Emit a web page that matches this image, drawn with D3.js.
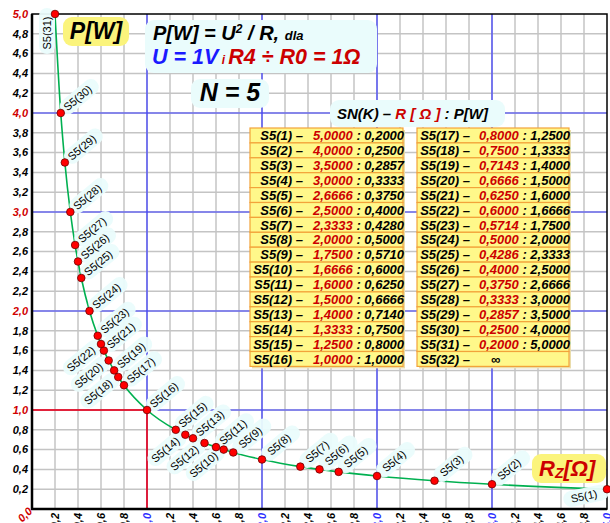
<!DOCTYPE html>
<html>
<head>
<meta charset="utf-8">
<script src="https://cdn.jsdelivr.net/npm/d3@7"></script>
<style>
  body { margin: 0; background: #fff; }
  svg { display: block; }
  text { font-family: "Liberation Sans", Arial, sans-serif; }
</style>
</head>
<body>
<svg id="chart" width="610" height="523"></svg>
<script>
// S5(k) – R[Ω] : P[W]   (k = 1..32)
const steps = [1, 2, 3, 4, 5, 6, 7, 8, 9, 10, 11, 12, 13, 14, 15, 16,
  17, 18, 19, 20, 21, 22, 23, 24, 25, 26, 27, 28, 29, 30, 31, 32];
const resistance = [5, 4, 3.5, 3, 2.6666, 2.5, 2.3333, 2, 1.75, 1.6666, 1.6, 1.5, 1.4, 1.3333, 1.25, 1,
  0.8, 0.75, 0.7143, 0.6666, 0.625, 0.6, 0.5714, 0.5, 0.4286, 0.4, 0.375, 0.3333, 0.2857, 0.25, 0.2, 0];
const power = [0.2, 0.25, 0.2857, 0.3333, 0.375, 0.4, 0.428, 0.5, 0.571, 0.6, 0.625, 0.6666, 0.714, 0.75, 0.8, 1,
  1.25, 1.3333, 1.4, 1.5, 1.6, 1.6666, 1.75, 2, 2.3333, 2.5, 2.6666, 3, 3.5, 4, 5, Infinity];

// axis ticks
const xTicks = [0, 0.2, 0.4, 0.6, 0.8, 1, 1.2, 1.4, 1.6, 1.8, 2, 2.2, 2.4, 2.6, 2.8, 3,
  3.2, 3.4, 3.6, 3.8, 4, 4.2, 4.4, 4.6, 4.8, 5];
const yTicks = xTicks.slice();
const majorTicks = [1, 2, 3, 4];

const svg = d3.select("#chart");
const fmt = v => v.toFixed(1).replace(".", ",");
const fmt4 = v => v.toFixed(4).replace(".", ",");

const x = d3.scaleLinear().domain([0, 5]).range([32, 607]);
const y = d3.scaleLinear().domain([0, 5]).range([509, 14]);

const pts = steps.map((k, i) => ({ k, r: resistance[i], p: power[i] }));
const plotted = pts.filter(d => isFinite(d.p));

// grid
const grid = svg.append("g");
grid.selectAll("line.gx").data(xTicks.filter(t => t > 0 && t < 5)).enter()
  .append("line").attr("class", "gx")
  .attr("x1", d => x(d)).attr("x2", d => x(d))
  .attr("y1", y(0)).attr("y2", y(5))
  .attr("stroke", "#c4c4c4").attr("stroke-width", 1.5);
grid.selectAll("line.gy").data(yTicks.filter(t => t > 0 && t < 5)).enter()
  .append("line").attr("class", "gy")
  .attr("y1", d => y(d)).attr("y2", d => y(d))
  .attr("x1", x(0)).attr("x2", x(5))
  .attr("stroke", "#c4c4c4").attr("stroke-width", 1.5);

// major blue lines
grid.selectAll("line.mx").data(majorTicks).enter()
  .append("line").attr("class", "mx")
  .attr("x1", d => x(d)).attr("x2", d => x(d))
  .attr("y1", y(0)).attr("y2", y(5))
  .attr("stroke", "#3a3aff").attr("stroke-width", 1.2);
grid.selectAll("line.my").data(majorTicks).enter()
  .append("line").attr("class", "my")
  .attr("y1", d => y(d)).attr("y2", d => y(d))
  .attr("x1", x(0)).attr("x2", x(5))
  .attr("stroke", "#3a3aff").attr("stroke-width", 1.2);

// red unit square
grid.append("line")
  .attr("x1", x(1)).attr("x2", x(1)).attr("y1", y(0)).attr("y2", y(1))
  .attr("stroke", "#ff0000").attr("stroke-width", 1.5);
grid.append("line")
  .attr("x1", x(0)).attr("x2", x(1)).attr("y1", y(1)).attr("y2", y(1))
  .attr("stroke", "#ff0000").attr("stroke-width", 1.5);

// frame
svg.append("rect")
  .attr("x", x(0)).attr("y", y(5))
  .attr("width", x(5) - x(0)).attr("height", y(0) - y(5))
  .attr("fill", "none").attr("stroke", "#000").attr("stroke-width", 1.5);
svg.append("line").attr("x1", x(0)).attr("x2", x(0)).attr("y1", y(5)).attr("y2", y(0) + 1)
  .attr("stroke", "#000").attr("stroke-width", 2.5);
svg.append("line").attr("x1", x(0) - 1).attr("x2", x(5)).attr("y1", y(0)).attr("y2", y(0))
  .attr("stroke", "#000").attr("stroke-width", 2.5);

// y tick labels
svg.append("g").selectAll("text")
  .data(yTicks.filter(t => t > 0)).enter()
  .append("text")
  .attr("x", 28).attr("y", d => y(d)).attr("dy", "0.35em")
  .attr("text-anchor", "end")
  .attr("font-size", 11).attr("font-weight", "bold").attr("font-style", "italic")
  .attr("fill", d => Number.isInteger(d) ? "#d00000" : "#000")
  .text(fmt);

// x tick labels (cut by the bottom edge, as in the original)
svg.append("g").selectAll("text")
  .data(xTicks.filter(t => t > 0)).enter()
  .append("text")
  .attr("transform", d => `translate(${x(d)},513) rotate(-90)`)
  .attr("dy", "0.35em")
  .attr("text-anchor", "end")
  .attr("font-size", 11).attr("font-weight", "bold").attr("font-style", "italic")
  .attr("fill", d => Number.isInteger(d) ? "#3030ff" : "#000")
  .text(fmt);
svg.append("text")
  .attr("transform", `translate(${x(0) + 1},${y(0) + 3}) rotate(-45)`)
  .attr("text-anchor", "end")
  .attr("font-size", 11).attr("font-weight", "bold").attr("font-style", "italic")
  .attr("fill", "#d00000")
  .text(fmt(0));

// boxes
const cyan = "#eafcfc", yellow = "#fbf47c", orange = "#f2a33a";
function box(x0, y0, w, h, fill) {
  svg.append("rect").attr("x", x0).attr("y", y0).attr("width", w).attr("height", h)
    .attr("rx", 9).attr("fill", fill);
}

box(63, 17, 66, 29, yellow);
svg.append("text").attr("x", 96).attr("y", 39).attr("text-anchor", "middle")
  .attr("font-size", 23).attr("font-weight", "bold").attr("font-style", "italic")
  .text("P[W]");

box(145, 20, 232, 53, cyan);
const f1 = svg.append("text").attr("x", 153).attr("y", 40)
  .attr("font-weight", "bold").attr("font-style", "italic").attr("font-size", 20);
f1.append("tspan").text("P[W] = U");
f1.append("tspan").attr("font-size", 12).attr("dy", -7).text("2");
f1.append("tspan").attr("dy", 7).text(" / R, ");
f1.append("tspan").attr("font-size", 13).text("dla");
const f2 = svg.append("text").attr("x", 152).attr("y", 64)
  .attr("font-weight", "bold").attr("font-style", "italic").attr("font-size", 21.5);
f2.append("tspan").attr("fill", "#1a1aff").text("U = 1V");
f2.append("tspan").attr("fill", "#cc0000").attr("font-size", 12).text(" i ");
f2.append("tspan").attr("fill", "#cc0000").text("R4 ÷ R0 = 1Ω");

box(191, 79, 78, 29, cyan);
svg.append("text").attr("x", 230).attr("y", 101).attr("text-anchor", "middle")
  .attr("font-size", 25).attr("font-weight", "bold").attr("font-style", "italic")
  .text("N = 5");

box(330, 100, 175, 27, cyan);
const hd = svg.append("text").attr("x", 337).attr("y", 119)
  .attr("font-weight", "bold").attr("font-style", "italic").attr("font-size", 15);
hd.append("tspan").text("SN(K) – ");
hd.append("tspan").attr("fill", "#cc0000").text("R [ Ω ]");
hd.append("tspan").text(" : P[W]");

box(532, 454, 74, 29, yellow);
const rz = svg.append("text").attr("x", 539).attr("y", 476)
  .attr("fill", "#cc0000").attr("font-weight", "bold").attr("font-style", "italic").attr("font-size", 22);
rz.append("tspan").text("R");
rz.append("tspan").attr("font-size", 14).attr("dy", 2).text("Z");
rz.append("tspan").attr("dy", -2).text("[Ω]");

// tables
const rowH = 14.9;
function table(rows, x0, w, labelEnd, valStart) {
  const g = svg.append("g");
  g.append("rect").attr("x", x0 + 2).attr("y", 130).attr("width", w).attr("height", rows.length * rowH)
    .attr("fill", "#eadcaa");
  const row = g.selectAll("g").data(rows).enter().append("g")
    .attr("transform", (d, i) => `translate(0,${128 + i * rowH})`);
  row.append("rect").attr("x", x0).attr("y", 0).attr("width", w).attr("height", rowH)
    .attr("fill", "#fff88a").attr("stroke", orange).attr("stroke-width", 1.2);
  row.append("text").attr("x", labelEnd).attr("y", rowH / 2).attr("dy", "0.36em")
    .attr("text-anchor", "end").attr("font-size", 13).attr("font-weight", "bold").attr("font-style", "italic")
    .text(d => `S5(${d.k}) –`);
  const t = row.append("text").attr("x", valStart).attr("y", rowH / 2).attr("dy", "0.36em")
    .attr("font-size", 13).attr("font-weight", "bold").attr("font-style", "italic");
  t.filter(d => isFinite(d.p)).append("tspan").attr("fill", "#cc0000").text(d => fmt4(d.r));
  t.filter(d => isFinite(d.p)).append("tspan").text(d => " : " + fmt4(d.p));
  t.filter(d => !isFinite(d.p)).append("tspan").attr("dx", 12).text("∞");
}
table(pts.slice(0, 16), 250, 153, 303, 313);
table(pts.slice(16), 417, 152, 470, 479);

// curve
const sorted = plotted.slice().sort((a, b) => a.r - b.r);
svg.append("path")
  .datum(sorted)
  .attr("fill", "none").attr("stroke", "#00b050").attr("stroke-width", 1.6)
  .attr("d", d3.line().x(d => x(d.r)).y(d => y(d.p)).curve(d3.curveMonotoneX));

// point labels
const lowerLeft = new Set([10, 12, 14, 18, 20, 22]);
function labelPos(d) {
  const px = x(d.r), py = y(d.p);
  if (d.k === 31) return { cx: px - 8, cy: py + 19, a: -90 };
  if (d.k === 1) return { cx: px - 23, cy: py + 7, a: -12 };
  if (lowerLeft.has(d.k)) return { cx: px - 20, cy: py + 15, a: -40 };
  return { cx: px + 17, cy: py - 15, a: -40 };
}
const lab = svg.append("g").selectAll("g").data(plotted).enter().append("g")
  .attr("transform", d => { const p = labelPos(d); return `translate(${p.cx},${p.cy}) rotate(${p.a})`; });
lab.append("rect").attr("x", -21).attr("y", -8).attr("width", 46).attr("height", 16).attr("rx", 8)
  .attr("fill", cyan).attr("opacity", 0.95);
lab.append("text").attr("text-anchor", "middle").attr("dy", "0.35em")
  .attr("font-size", 11).text(d => `S5(${d.k})`);

// points
svg.append("g").selectAll("circle").data(plotted).enter()
  .append("circle")
  .attr("cx", d => x(d.r)).attr("cy", d => y(d.p)).attr("r", 3.8)
  .attr("fill", "#ff0000").attr("stroke", "#700000").attr("stroke-width", 0.8);
</script>
</body>
</html>
